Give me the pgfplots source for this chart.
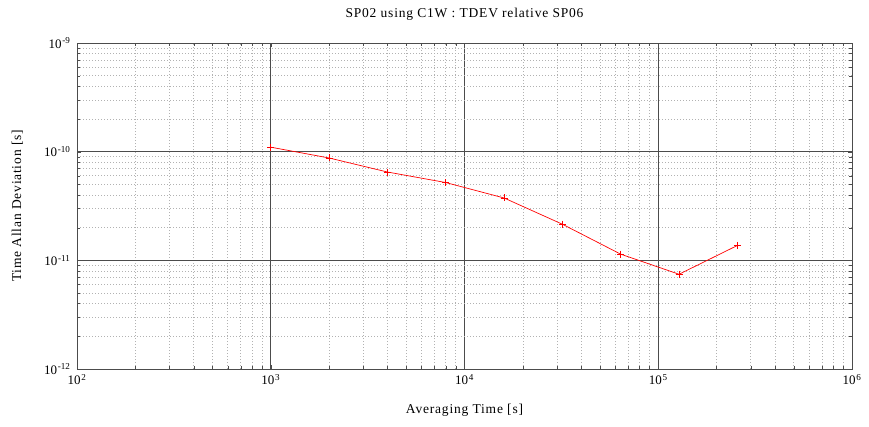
\documentclass[border=0pt]{standalone}
\usepackage{fontspec}
\setmainfont{Liberation Serif}
\usepackage{pgfplots}
\pgfplotsset{compat=1.18}
\newcommand{\lblfont}{\fontsize{13.5}{15}\selectfont\addfontfeatures{LetterSpace=6}}
\newcommand{\e}[1]{10\hspace{0.8pt}\textsuperscript{#1}}
\begin{document}
\begin{tikzpicture}
\path[use as bounding box] (-77pt,-58pt) rectangle (792pt,369pt);
\begin{axis}[
  at={(0,0)}, anchor=south west,
  scale only axis,
  width=775pt, height=326pt,
  xmode=log, ymode=log,
  xmin=1e2, xmax=1e6,
  ymin=1e-12, ymax=1e-9,
  xtick={1e2,1e3,1e4,1e5,1e6},
  xticklabels={\e{2},\e{3},\e{4},\e{5},\e{6}},
  ytick={1e-12,1e-11,1e-10,1e-9},
  yticklabels={\e{-12},\e{-11},\e{-10},\e{-9}},
  tick label style={font=\fontsize{13}{15}\selectfont},
  xticklabel style={yshift=-2pt},
  yticklabel style={xshift=-3pt},
  grid=both,
  major grid style={black!70, line width=1pt},
  minor grid style={black!30, dash pattern=on 1pt off 2pt, line width=0.6pt},
  axis line style={black!70, line width=1pt},
  tick style={black!70},
  xlabel={Averaging Time [s]},
  ylabel={Time Allan Deviation [s]},
  label style={font=\lblfont},
  xlabel style={at={(axis description cs:0.5,-0.126)}, anchor=center},
  ylabel style={at={(axis description cs:-0.077,0.5)}, anchor=center},
  title={SP02 using C1W : TDEV relative SP06},
  every axis title/.style={font=\lblfont, at={(axis description cs:0.5,1.089)}, anchor=center},
]
\addplot[red, line width=0.7pt, mark=+, mark size=3.5pt, mark options={solid, red, line width=0.7pt}] coordinates {
(1000,1.10e-10)
(2000,8.75e-11)
(4000,6.5e-11)
(8000,5.2e-11)
(16000,3.75e-11)
(32000,2.15e-11)
(64000,1.14e-11)
(128000,7.45e-12)
(256000,1.37e-11)
};
\end{axis}
\end{tikzpicture}
\end{document}
